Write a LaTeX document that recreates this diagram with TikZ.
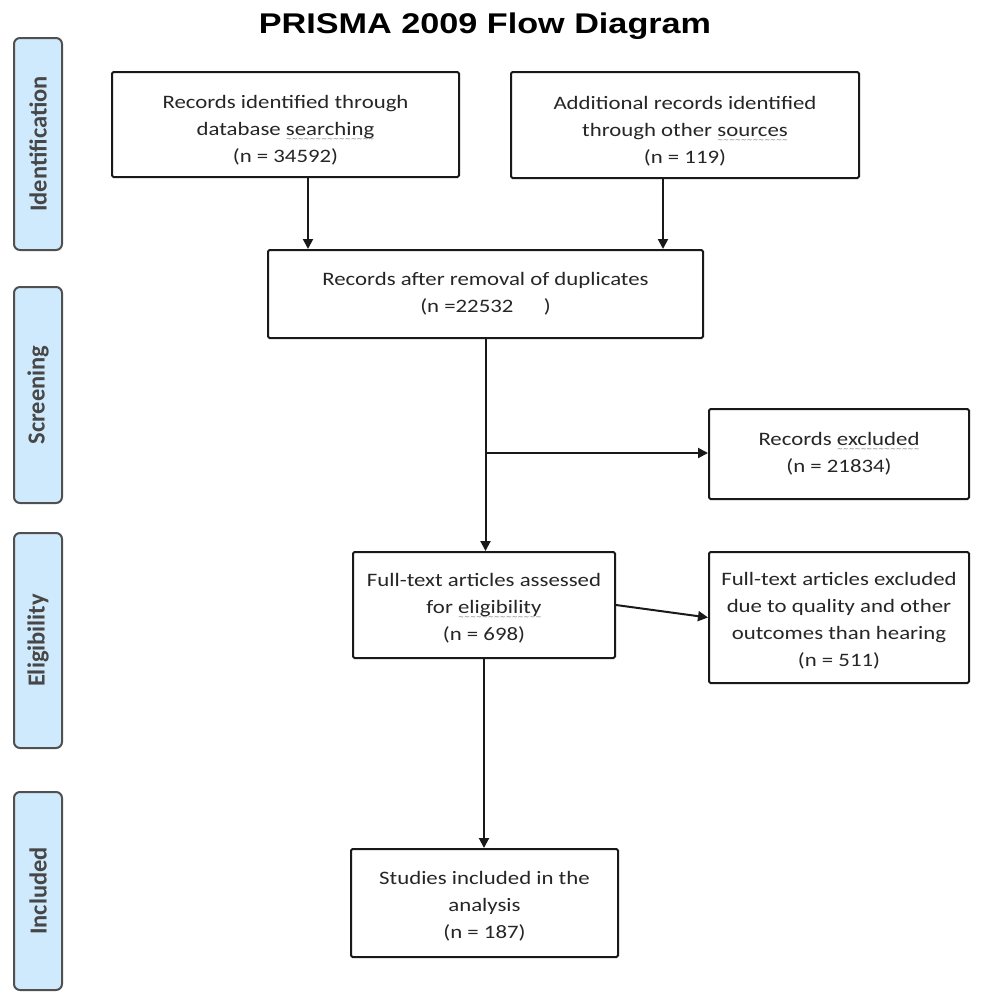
\documentclass[tikz,border=0pt]{standalone}
\usepackage{fontspec}
\setmainfont{Carlito}
\usetikzlibrary{arrows.meta}
\newfontfamily\boxfont{Carlito}[FakeStretch=1.2]
\newfontfamily\titlefont{Liberation Sans}[FakeStretch=1.2]
\newfontfamily\sidefont{Carlito}
\newfontfamily\wavefont{DejaVu Sans}
\definecolor{sidefill}{HTML}{D0EAFD}
\definecolor{sideline}{HTML}{505050}
\newsavebox\sqbox
\newcommand\squig[1]{\leavevmode\sbox\sqbox{#1}\rlap{\raisebox{-6pt}{\hbox to \wd\sqbox{\color{black!55}\wavefont\fontsize{7}{7}\selectfont\xleaders\hbox{\char"7E}\hfill}}}\usebox\sqbox}
\newcommand\tup[1]{\rule{0pt}{#1}}
\begin{document}
\begin{tikzpicture}[x=1pt,y=-1pt,
  box/.style={draw=black!90, line width=2pt, rounded corners=1.5pt, fill=white, align=center,
    font=\boxfont\fontsize{19}{27}\selectfont, inner sep=0pt, text=black!85},
  side/.style={draw=sideline, line width=2pt, fill=sidefill, rounded corners=6pt, rotate=90,
    minimum height=48pt, font=\sidefont\bfseries\fontsize{24.5}{28}\selectfont, text=black!72, inner sep=0pt},
  arr/.style={line width=2pt, draw=black!90, -{Triangle[length=10pt,width=10pt]}},
  ln/.style={line width=2pt, draw=black!90}]
\useasboundingbox (0,0) rectangle (987,994);

\node[font=\titlefont\bfseries\fontsize{28.5}{30}\selectfont] (title) at (485,26) {PRISMA 2009 Flow Diagram};

\node[side, minimum width=212pt] (s1) at (38,144) {Identification};
\node[side, minimum width=216pt] (s2) at (38,395) {Screening};
\node[side, minimum width=215pt] (s3) at (38,640.5) {Eligibility};
\node[side, minimum width=198pt] (s4) at (38,891) {Included};

\node[box, minimum width=347pt, minimum height=105pt] (b1) at (285.5,124.5)
  {\tup{25pt}Records identified through\\database \squig{searching}\\(n = 34592)};
\node[box, minimum width=348pt, minimum height=106pt] (b2) at (685,125)
  {\tup{25pt}Additional records identified\\through other \squig{sources}\\(n = 119)};
\node[box, minimum width=435pt, minimum height=88pt] (b3) at (485.5,294)
  {Records after removal of duplicates\\(n =22532\hspace{1.6em})};
\node[box, minimum width=260pt, minimum height=90pt] (b5) at (839,454)
  {Records \squig{excluded}\\(n = 21834)};
\node[box, minimum width=262pt, minimum height=106pt] (b4) at (484,605)
  {\tup{19pt}Full-text articles assessed\\for \squig{eligibility}\\(n = 698)};
\node[box, minimum width=260pt, minimum height=131pt] (b6) at (839,617.5)
  {\tup{19pt}Full-text articles excluded\\due to quality and other\\outcomes than hearing\\(n = 511)};
\node[box, minimum width=267pt, minimum height=108pt] (b7) at (484.5,903)
  {\tup{19pt}Studies included in the\\analysis\\(n = 187)};

\coordinate (br) at (485.5,453);
\draw[arr] ([xshift=22.5pt]b1.south) -- ([xshift=22.5pt]b1.south |- b3.north);
\draw[arr] ([xshift=-22pt]b2.south) -- ([xshift=-22pt]b2.south |- b3.north);
\draw[arr] (b3.south) -- (b3.south |- b4.north);
\draw[arr] (br) -- (br -| b5.west);
\draw[arr] (b4.east) -- (b6.west);
\draw[arr] (b4.south) -- (b4.south |- b7.north);
\end{tikzpicture}
\end{document}
